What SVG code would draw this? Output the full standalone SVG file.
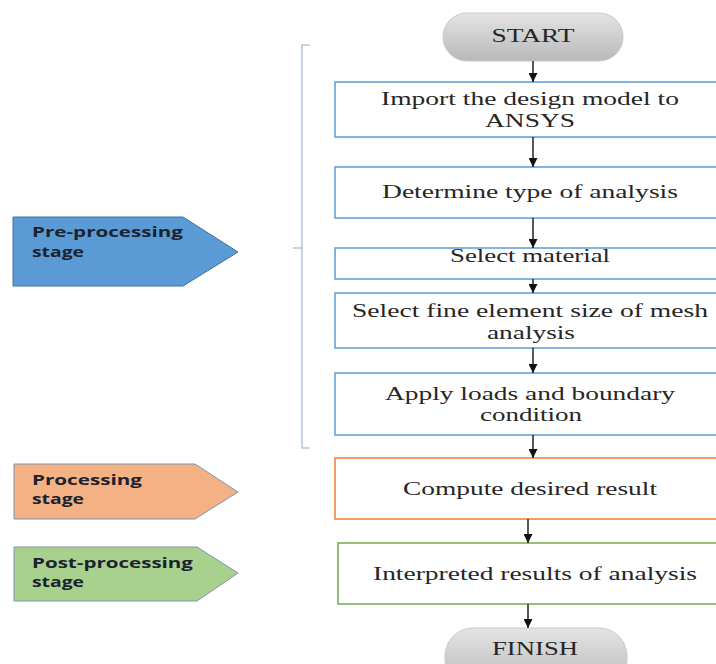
<svg xmlns="http://www.w3.org/2000/svg" width="716" height="664" viewBox="0 0 716 664">
<defs>
<linearGradient id="pill" x1="0" y1="0" x2="0" y2="1">
<stop offset="0" stop-color="#e4e4e4"/>
<stop offset="1" stop-color="#b9b9b9"/>
</linearGradient>
<marker id="ah" viewBox="0 0 10 10" refX="10" refY="5" markerWidth="10" markerHeight="9" markerUnits="userSpaceOnUse" orient="auto">
<path d="M0,0 L10,5 L0,10 Z" fill="#111"/>
</marker>
<style>
.box{fill:#fff;stroke:#5b9bd5;stroke-width:1.5}
.obox{fill:#fff;stroke:#ed7d31;stroke-width:1.5}
.gbox{fill:#fff;stroke:#70ad47;stroke-width:1.5}
.pill{fill:url(#pill);stroke:#c8c8c8;stroke-width:1}
.t{font-family:"Liberation Serif","Times New Roman",serif;font-size:18px;fill:#262626;text-anchor:middle}
.lab{font-family:"Open Sans","Liberation Sans",sans-serif;font-weight:bold;font-size:15px;fill:#1b2230}
.conn line{stroke:#222;stroke-width:1.5;marker-end:url(#ah)}
.br{fill:none;stroke:#b4c4da;stroke-width:1.5}
</style>
</defs>
<rect width="716" height="664" fill="#fff"/>

<g id="bracket">
<path class="br" d="M310,45 L302,45 L302,448 L310,448 M302,248 L293,248"/>
</g>

<g id="start">
<rect class="pill" x="443" y="13" width="180" height="48" rx="24"/>
<text class="t" x="533" y="42" textLength="83" lengthAdjust="spacingAndGlyphs" font-size="19">START</text>
</g>

<g id="import">
<rect class="box" x="335" y="82" width="400" height="55"/>
<text class="t" x="530" y="105" textLength="298" lengthAdjust="spacingAndGlyphs">Import the design model to</text>
<text class="t" x="530" y="127" textLength="90" lengthAdjust="spacingAndGlyphs">ANSYS</text>
</g>

<g id="determine">
<rect class="box" x="335" y="167" width="400" height="51"/>
<text class="t" x="530" y="198" textLength="296" lengthAdjust="spacingAndGlyphs">Determine type of analysis</text>
</g>

<g id="material">
<rect class="box" x="335" y="248" width="400" height="31"/>
<text class="t" x="530" y="262" textLength="160" lengthAdjust="spacingAndGlyphs">Select material</text>
</g>

<g id="mesh">
<rect class="box" x="335" y="293" width="400" height="55"/>
<text class="t" x="530" y="317" textLength="356" lengthAdjust="spacingAndGlyphs">Select fine element size of mesh</text>
<text class="t" x="531" y="339" textLength="88" lengthAdjust="spacingAndGlyphs">analysis</text>
</g>

<g id="loads">
<rect class="box" x="335" y="373" width="400" height="62"/>
<text class="t" x="530" y="400" textLength="290" lengthAdjust="spacingAndGlyphs">Apply loads and boundary</text>
<text class="t" x="531" y="421" textLength="102" lengthAdjust="spacingAndGlyphs">condition</text>
</g>

<g id="compute">
<rect class="obox" x="335" y="458" width="400" height="61"/>
<text class="t" x="530" y="495" textLength="254" lengthAdjust="spacingAndGlyphs">Compute desired result</text>
</g>

<g id="interpret">
<rect class="gbox" x="338" y="543" width="400" height="61"/>
<text class="t" x="535" y="580" textLength="324" lengthAdjust="spacingAndGlyphs">Interpreted results of analysis</text>
</g>

<g id="finish">
<rect class="pill" x="445" y="628" width="182" height="60" rx="28"/>
<text class="t" x="535" y="655" textLength="86" lengthAdjust="spacingAndGlyphs" font-size="19">FINISH</text>
</g>

<g id="pre-stage">
<path d="M13,217 L183,217 L238,252 L183,286 L13,286 Z" fill="#5b9bd5" stroke="#41719c" stroke-width="1"/>
<text class="lab" x="32" y="237" textLength="151" lengthAdjust="spacingAndGlyphs">Pre-processing</text>
<text class="lab" x="32" y="257" textLength="52" lengthAdjust="spacingAndGlyphs">stage</text>
</g>

<g id="proc-stage">
<path d="M14,464 L195,464 L238,492 L195,519 L14,519 Z" fill="#f4b183" stroke="#7f93ad" stroke-width="1"/>
<text class="lab" x="32" y="485" textLength="110" lengthAdjust="spacingAndGlyphs">Processing</text>
<text class="lab" x="32" y="504" textLength="52" lengthAdjust="spacingAndGlyphs">stage</text>
</g>

<g id="post-stage">
<path d="M14,547 L197,547 L238,573 L197,601 L14,601 Z" fill="#a9d18e" stroke="#7f93ad" stroke-width="1"/>
<text class="lab" x="32" y="568" textLength="161" lengthAdjust="spacingAndGlyphs">Post-processing</text>
<text class="lab" x="32" y="587" textLength="52" lengthAdjust="spacingAndGlyphs">stage</text>
</g>

<g id="connectors" class="conn">
<line x1="533" y1="61" x2="533" y2="82"/>
<line x1="533" y1="137" x2="533" y2="167"/>
<line x1="533" y1="218" x2="533" y2="248"/>
<line x1="533" y1="279" x2="533" y2="293"/>
<line x1="533" y1="348" x2="533" y2="373"/>
<line x1="533" y1="435" x2="533" y2="458"/>
<line x1="528" y1="519" x2="528" y2="543"/>
<line x1="528" y1="604" x2="528" y2="628"/>
</g>
</svg>
